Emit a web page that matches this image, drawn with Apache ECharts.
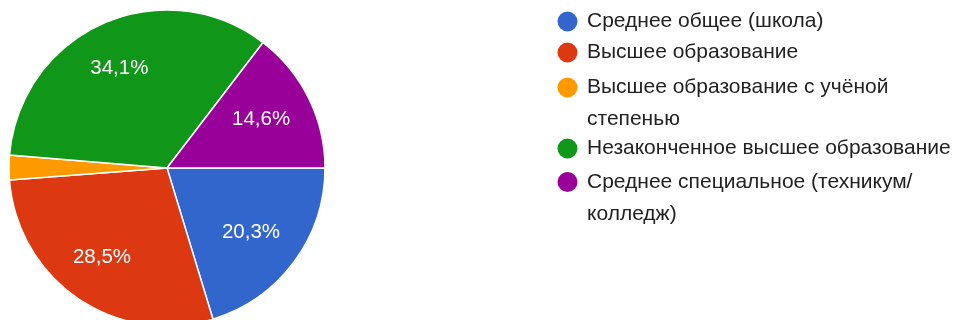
<!DOCTYPE html>
<html>
<head>
<meta charset="utf-8">
<script src="https://cdn.jsdelivr.net/npm/echarts@6/dist/echarts.min.js"></script>
<style>
  html, body { margin: 0; padding: 0; background: #fff; }
  #chart { width: 955px; height: 320px; }
</style>
</head>
<body>
<div id="chart"></div>
<script>
// Education level of respondents, share in percent
const categories = [
  'Среднее общее (школа)',
  'Высшее образование',
  'Высшее образование с учёной степенью',
  'Незаконченное высшее образование',
  'Среднее специальное (техникум/ колледж)'
];
const shares = [20.3, 28.5, 2.5, 34.1, 14.6];
const palette = ['#3366cc', '#dc3912', '#ff9900', '#109618', '#990099'];

const FONT_FAMILY = '"Liberation Sans", Arial, sans-serif';
const LEGEND_FONT_SIZE = 21;
const LEGEND_LINE = 32;
const LEGEND_WRAP = 380;
const CENTER = [167, 168];
const RADIUS = 158;

const pieData = categories.map((name, i) => ({ name: name, value: shares[i] }));

// word wrap for legend entries, measured with the legend font
const measureCtx = document.createElement('canvas').getContext('2d');
measureCtx.font = LEGEND_FONT_SIZE + 'px ' + FONT_FAMILY;
function wrapWords(text, maxWidth) {
  const words = text.split(' ');
  const lines = [];
  let line = '';
  words.forEach(w => {
    const trial = line ? line + ' ' + w : w;
    if (line && measureCtx.measureText(trial).width > maxWidth) {
      lines.push(line);
      line = w;
    } else {
      line = trial;
    }
  });
  if (line) lines.push(line);
  return lines;
}
const wrapped = categories.map(name => wrapWords(name, LEGEND_WRAP));

// One legend block per category. The text of an entry is centred on its marker,
// so wrapped entries get blank leading lines to keep the marker beside line one.
const legendCenters = [21.5, 52.5, 87.5, 148.5, 182];
const legends = categories.map((name, i) => {
  const n = wrapped[i].length;
  const text = '\n'.repeat(n - 1) + wrapped[i].join('\n');
  return {
    data: [name],
    left: 557.5,
    top: legendCenters[i] - LEGEND_LINE / 2 - (n - 1) * LEGEND_LINE,
    orient: 'vertical',
    padding: 0,
    icon: 'circle',
    itemWidth: 29,
    itemHeight: 20,
    selectedMode: false,
    itemStyle: { borderWidth: 0 },
    formatter: () => text,
    textStyle: {
      fontFamily: FONT_FAMILY,
      fontSize: LEGEND_FONT_SIZE,
      lineHeight: LEGEND_LINE,
      color: '#222222'
    }
  };
});

const chart = echarts.init(document.getElementById('chart'), null, { renderer: 'canvas' });
chart.setOption({
  animation: false,
  backgroundColor: '#ffffff',
  color: palette,
  legend: legends,
  series: [
    {
      type: 'pie',
      center: CENTER,
      radius: [0, RADIUS],
      startAngle: 0,
      clockwise: true,
      silent: true,
      label: { show: false },
      labelLine: { show: false },
      itemStyle: { borderColor: '#ffffff', borderWidth: 1.5 },
      data: pieData
    },
    {
      // transparent ring that carries the percentage labels at ~2/3 of the radius
      type: 'pie',
      center: CENTER,
      radius: [RADIUS * 0.34, RADIUS],
      startAngle: 0,
      clockwise: true,
      silent: true,
      minShowLabelAngle: 12,
      itemStyle: { color: 'rgba(0,0,0,0)', borderWidth: 0 },
      label: {
        show: true,
        position: 'inside',
        fontFamily: FONT_FAMILY,
        fontSize: 20.5,
        color: '#ffffff',
        padding: [0, 7, 0, 0],
        formatter: p => p.value.toFixed(1).replace('.', ',') + '%'
      },
      labelLine: { show: false },
      data: pieData
    }
  ]
});
</script>
</body>
</html>
